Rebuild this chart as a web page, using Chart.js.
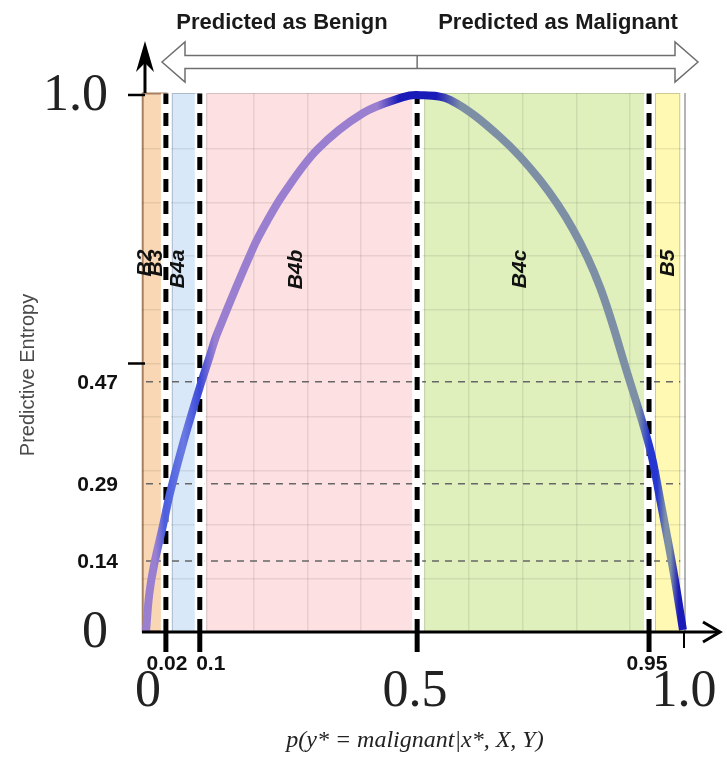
<!DOCTYPE html>
<html>
<head>
<meta charset="utf-8">
<script src="https://cdn.jsdelivr.net/npm/chart.js@4.4.1/dist/chart.umd.min.js"></script>
<style>
  html, body { margin: 0; padding: 0; background: #fff; }
  canvas { display: block; }
</style>
</head>
<body>
<canvas id="entropy-chart" width="727" height="773"></canvas>
<script>
// entropy curve (x = p, y = predictive entropy)
const curveX = [0, 0.006, 0.015, 0.032, 0.045, 0.07, 0.1, 0.119, 0.132, 0.199, 0.225, 0.255, 0.318, 0.403, 0.478, 0.504,
                0.565, 0.658, 0.732, 0.794, 0.844, 0.894, 0.937, 0.955, 0.98, 0.998];
const curveY = [0, 0.07, 0.125, 0.2, 0.26, 0.355, 0.456, 0.515, 0.555, 0.715, 0.765, 0.815, 0.898, 0.966, 0.996, 1.0,
                0.991, 0.922, 0.842, 0.749, 0.642, 0.484, 0.34, 0.25, 0.115, 0.004];

// coloured regions
const bandStart = [-0.007, 0.048, 0.112, 0.517, 0.946];
const bandEnd = [0.039, 0.100, 0.498, 0.928, 0.993];
const bandLabels = ['B2', 'B3', 'B4a', 'B4b', 'B4c', 'B5'];
const bandLabelX = [-0.002, 0.019, 0.06, 0.279, 0.695, 0.97];

// thresholds
const vLines = [0.037, 0.1, 0.504, 0.935];
const vLineLabels = ['0.02', '0.1', '', '0.95'];
const hLines = [0.466, 0.276, 0.132];
const hLineLabels = ['0.47', '0.29', '0.14'];

// axis labels
const xMainTicks = [0, 0.5, 1.0];
const xMainLabels = ['0', '0.5', '1.0'];
const yMainTicks = [0, 1.0];
const yMainLabels = ['0', '1.0'];
const yMarks = [0.5, 1.0];
const gridValues = [0.1, 0.2, 0.3, 0.4, 0.5, 0.6, 0.7, 0.8, 0.9];

const bandColors = ['#f9d7b4', '#d8e8f9', '#fde0e1', '#dff0bd', '#fff9b4'];
const bandEdges = ['#a9805f', 'rgba(0,0,0,0.2)', 'rgba(0,0,0,0.15)', 'rgba(0,0,0,0.15)', 'rgba(0,0,0,0.2)'];

// colour along the curve (by p)
const curveStops = [
    [0, '#9a7fd0'], [0.018, '#9a7fd0'], [0.035, '#4a5ee0'], [0.07, '#6a7ae2'], [0.1, '#3a48d8'],
    [0.128, '#9a7fd0'], [0.43, '#9a7fd0'], [0.47, '#1a1ab8'], [0.54, '#1a1ab8'], [0.585, '#7d8fa5'],
    [0.915, '#7d8fa5'], [0.935, '#2537d0'], [0.95, '#2537d0'], [0.965, '#7d8fa5'], [0.975, '#7d8fa5'],
    [0.99, '#1a1ab8'], [1.0, '#1a1ab8']
];

function curveGradient(context) {
    const chart = context.chart;
    const a = chart.chartArea;
    const xs = chart.scales.x;
    if (!a || !xs) return '#9a7fd0';
    const g = chart.ctx.createLinearGradient(a.left, 0, a.right, 0);
    curveStops.forEach(([v, c]) => {
        const f = (xs.getPixelForValue(v) - a.left) / (a.right - a.left);
        g.addColorStop(Math.min(1, Math.max(0, f)), c);
    });
    return g;
}

const datasets = [];
datasets.push({
    data: curveX.map((x, i) => ({ x, y: curveY[i] })),
    borderWidth: 8,
    borderColor: curveGradient,
    tension: 0.35,
    pointRadius: 0,
    clip: false,
    order: 1
});
vLines.forEach(v => {
    datasets.push({
        data: [{ x: v, y: 0 }, { x: v, y: 1.003 }],
        borderColor: '#000', borderWidth: 5, borderDash: [13, 9],
        pointRadius: 0, order: 2
    });
    datasets.push({
        data: [{ x: v, y: 0 }, { x: v, y: 1.003 }],
        borderColor: '#fff', borderWidth: 10,
        pointRadius: 0, order: 3
    });
});
hLines.forEach(v => {
    datasets.push({
        data: [{ x: 0, y: v }, { x: 0.993, y: v }],
        borderColor: '#666', borderWidth: 1.5, borderDash: [7, 6],
        pointRadius: 0, order: 4
    });
});

const decor = {
    id: 'decor',
    beforeDraw(chart) {
        const { ctx, chartArea: a, scales: { x, y } } = chart;
        const y0 = y.getPixelForValue(0);
        ctx.save();
        bandStart.forEach((s, i) => {
            const l = x.getPixelForValue(s);
            const r = x.getPixelForValue(bandEnd[i]);
            ctx.fillStyle = bandColors[i];
            ctx.fillRect(l, a.top, r - l, y0 - a.top);
            ctx.strokeStyle = bandEdges[i];
            ctx.lineWidth = i === 0 ? 2 : 1;
            ctx.strokeRect(l + 0.5, a.top + 0.5, r - l - 1, y0 - a.top - 1);
        });
        // faint frame on the right
        ctx.strokeStyle = '#b5b5b5';
        ctx.lineWidth = 2;
        ctx.beginPath();
        ctx.moveTo(a.right - 1, a.top);
        ctx.lineTo(a.right - 1, y0);
        ctx.stroke();
        ctx.restore();
    },
    afterDraw(chart) {
        const { ctx, chartArea: a, scales: { x, y } } = chart;
        const x0 = x.getPixelForValue(0) - 1;
        const y0 = y.getPixelForValue(0);
        ctx.save();
        ctx.strokeStyle = '#000';
        ctx.fillStyle = '#000';

        // y axis arrow (above the plot)
        ctx.lineWidth = 3;
        ctx.beginPath();
        ctx.moveTo(x0, a.top);
        ctx.lineTo(x0, 50);
        ctx.stroke();
        ctx.beginPath();
        ctx.moveTo(x0, 41);
        ctx.lineTo(x0 - 9, 72);
        ctx.lineTo(x0, 63);
        ctx.lineTo(x0 + 9, 72);
        ctx.closePath();
        ctx.fill();

        // x axis arrow
        ctx.beginPath();
        ctx.moveTo(x0 - 3, y0);
        ctx.lineTo(719, y0);
        ctx.stroke();
        ctx.beginPath();
        ctx.moveTo(703, y0 - 10);
        ctx.lineTo(720, y0);
        ctx.lineTo(703, y0 + 10);
        ctx.stroke();

        // y marks
        ctx.lineWidth = 2.5;
        yMarks.forEach(v => {
            const py = y.getPixelForValue(v);
            ctx.beginPath();
            ctx.moveTo(128, py);
            ctx.lineTo(x0, py);
            ctx.stroke();
        });

        // x marks under the axis
        vLines.forEach(v => {
            const px = x.getPixelForValue(v);
            ctx.lineWidth = 5;
            ctx.beginPath();
            ctx.moveTo(px, y0);
            ctx.lineTo(px, y0 + 20);
            ctx.stroke();
        });
        ctx.lineWidth = 2;
        ctx.beginPath();
        ctx.moveTo(x.getPixelForValue(1.0), y0);
        ctx.lineTo(x.getPixelForValue(1.0), y0 + 16);
        ctx.stroke();

        // big serif tick labels
        ctx.font = '52px "Liberation Serif", serif';
        ctx.fillStyle = '#222';
        ctx.textBaseline = 'middle';
        ctx.textAlign = 'center';
        xMainTicks.forEach((v, i) => ctx.fillText(xMainLabels[i], x.getPixelForValue(v) + (i === 0 ? 2 : 0), y0 + 60));
        ctx.textAlign = 'right';
        yMainTicks.forEach((v, i) => ctx.fillText(yMainLabels[i], 108, y.getPixelForValue(v) + 1));

        // small bold threshold labels
        ctx.fillStyle = '#111';
        ctx.font = 'bold 21px "Liberation Sans", Arial, sans-serif';
        ctx.textAlign = 'right';
        hLines.forEach((v, i) => ctx.fillText(hLineLabels[i], 118, y.getPixelForValue(v) + 1));
        const nudge = [1, 11, 0, -2];
        ctx.textAlign = 'center';
        vLines.forEach((v, i) => {
            if (vLineLabels[i]) ctx.fillText(vLineLabels[i], x.getPixelForValue(v) + nudge[i], y0 + 32);
        });

        // region labels
        ctx.font = 'italic bold 21px "Liberation Sans", Arial, sans-serif';
        ctx.textAlign = 'right';
        bandLabels.forEach((t, i) => {
            ctx.save();
            ctx.translate(x.getPixelForValue(bandLabelX[i]), y.getPixelForValue(0.712));
            ctx.rotate(-Math.PI / 2);
            ctx.fillText(t, 0, 0);
            ctx.restore();
        });

        // axis titles
        ctx.save();
        ctx.translate(28, 375);
        ctx.rotate(-Math.PI / 2);
        ctx.textAlign = 'center';
        ctx.fillStyle = '#4a4a4a';
        ctx.font = '20px "Liberation Sans", Arial, sans-serif';
        ctx.fillText('Predictive Entropy', 0, 0);
        ctx.restore();

        ctx.textAlign = 'center';
        ctx.fillStyle = '#222';
        ctx.font = 'italic 24px "Liberation Serif", serif';
        ctx.fillText('p(y* = malignant|x*, X, Y)', x.getPixelForValue(0.5), 741);

        // double arrow on top
        const mid = x.getPixelForValue(vLines[2]);
        const cy = 62;
        ctx.beginPath();
        ctx.moveTo(162, cy);
        ctx.lineTo(185, cy - 20);
        ctx.lineTo(185, cy - 6.5);
        ctx.lineTo(675, cy - 6.5);
        ctx.lineTo(675, cy - 20);
        ctx.lineTo(698, cy);
        ctx.lineTo(675, cy + 20);
        ctx.lineTo(675, cy + 6.5);
        ctx.lineTo(185, cy + 6.5);
        ctx.lineTo(185, cy + 20);
        ctx.closePath();
        ctx.fillStyle = '#fff';
        ctx.fill();
        ctx.strokeStyle = '#6f6f6f';
        ctx.lineWidth = 1.5;
        ctx.stroke();
        ctx.beginPath();
        ctx.moveTo(mid, cy - 6.5);
        ctx.lineTo(mid, cy + 6.5);
        ctx.stroke();

        ctx.fillStyle = '#1a1a1a';
        ctx.font = 'bold 22px "Liberation Sans", Arial, sans-serif';
        ctx.textAlign = 'center';
        ctx.fillText('Predicted as Benign', 282, 23);
        ctx.fillText('Predicted as Malignant', 558, 23);
        ctx.restore();
    }
};

new Chart(document.getElementById('entropy-chart'), {
    type: 'line',
    data: { datasets },
    plugins: [decor],
    options: {
        responsive: false,
        animation: false,
        devicePixelRatio: 1,
        layout: { padding: { left: 142, right: 41, top: 93, bottom: 141 } },
        plugins: { legend: { display: false }, tooltip: { enabled: false } },
        scales: {
            x: {
                type: 'linear', min: -0.0074, max: 1.0037,
                border: { display: false },
                ticks: { display: false },
                grid: { color: 'rgba(0,0,0,0.08)', lineWidth: 1.5, drawTicks: false },
                afterBuildTicks: s => { s.ticks = gridValues.map(v => ({ value: v })); }
            },
            y: {
                type: 'linear', min: 0, max: 1.0037,
                border: { display: false },
                ticks: { display: false },
                grid: { color: 'rgba(0,0,0,0.08)', lineWidth: 1.5, drawTicks: false },
                afterBuildTicks: s => { s.ticks = gridValues.map(v => ({ value: v })); }
            }
        }
    }
});
</script>
</body>
</html>
